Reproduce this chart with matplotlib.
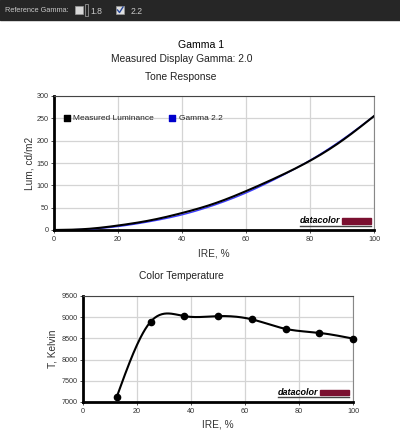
import numpy as np
import matplotlib
matplotlib.use("Agg")
from matplotlib import pyplot as plt
from matplotlib.patches import Rectangle

plt.rcParams['font.family'] = ['Liberation Sans', 'DejaVu Sans']

# tone response
ire = [0, 10, 20, 30, 40, 50, 60, 70, 80, 90, 100]
measured_lum = [0, 2.2, 10, 21.5, 38, 59, 87, 119, 155, 200, 255]
gamma22_lum = [0, 1.6, 7.8, 18.9, 34.0, 55.4, 83.0, 117.0, 156.0, 202.0, 255.0]

# color temperature
ct_ire = [12.5, 25, 37.5, 50, 62.5, 75, 87.5, 100]
ct_kelvin = [7120, 8890, 9025, 9025, 8950, 8725, 8630, 8495]


def spline(xs, ys, n=200):
    # natural cubic spline, only used to draw a smooth line through the points
    xs = np.asarray(xs, float)
    ys = np.asarray(ys, float)
    k = len(xs)
    h = np.diff(xs)
    A = np.zeros((k, k))
    b = np.zeros(k)
    A[0, 0] = A[-1, -1] = 1
    for i in range(1, k - 1):
        A[i, i - 1] = h[i - 1]
        A[i, i] = 2 * (h[i - 1] + h[i])
        A[i, i + 1] = h[i]
        b[i] = 3 * ((ys[i + 1] - ys[i]) / h[i] - (ys[i] - ys[i - 1]) / h[i - 1])
    c = np.linalg.solve(A, b)
    xx = np.linspace(xs[0], xs[-1], n)
    idx = np.clip(np.searchsorted(xs, xx) - 1, 0, k - 2)
    dx = xx - xs[idx]
    bb = (ys[idx + 1] - ys[idx]) / h[idx] - h[idx] * (2 * c[idx] + c[idx + 1]) / 3
    dd = (c[idx + 1] - c[idx]) / (3 * h[idx])
    yy = ys[idx] + bb * dx + c[idx] * dx ** 2 + dd * dx ** 3
    return xx, yy


def style(ax):
    ax.grid(True, color='#d4d4d4', lw=0.9)
    ax.set_axisbelow(True)
    for s in ['left', 'bottom']:
        ax.spines[s].set_linewidth(2.0)
        ax.spines[s].set_color('black')
    ax.spines['top'].set_color('#444444')
    ax.spines['top'].set_linewidth(0.8)
    ax.spines['right'].set_color('#888888')
    ax.spines['right'].set_linewidth(0.8)
    ax.tick_params(labelsize=5.2, colors='#333333', length=2.5, width=0.6, pad=1.5)


def logo(ax, x0, xb, x1, y):
    ax.text(x0, y, 'datacolor', transform=ax.transAxes, fontsize=6.5,
            fontweight='bold', style='italic', va='center', ha='left', color='black')
    ax.add_patch(Rectangle((xb, y - 0.022), x1 - xb, 0.044, transform=ax.transAxes,
                           color='#7a1030', zorder=5))
    ax.plot([x0, x1], [y - 0.04, y - 0.04], transform=ax.transAxes,
            color='#444444', lw=1.0, zorder=5)


fig = plt.figure(figsize=(4.0, 4.38), dpi=100)
W, H = 400.0, 438.0

# dark header bar
fig.patches.append(Rectangle((0, 1 - 20 / H), 1, 20 / H, transform=fig.transFigure,
                             color='#262626', zorder=0))
fig.text(5 / W, 1 - 10.5 / H, 'Reference Gamma:', fontsize=5.3, color='#c8c8c8', va='center')
fig.patches.append(Rectangle((75 / W, 1 - 14 / H), 8 / W, 8 / H, transform=fig.transFigure,
                             facecolor='#d8d8d8', edgecolor='#999999', lw=0.5))
fig.patches.append(Rectangle((85 / W, 1 - 16 / H), 3 / W, 12 / H, transform=fig.transFigure,
                             facecolor='#262626', edgecolor='#aaaaaa', lw=0.5))
fig.text(90 / W, 1 - 11.5 / H, '1.8', fontsize=6.2, color='#c8c8c8', va='center')
fig.patches.append(Rectangle((116 / W, 1 - 14 / H), 8 / W, 8 / H, transform=fig.transFigure,
                             facecolor='#e0e0e0', edgecolor='#999999', lw=0.5))
fig.lines.append(plt.Line2D([117.5 / W, 119.5 / W, 123 / W],
                            [1 - 10 / H, 1 - 12.5 / H, 1 - 7 / H],
                            transform=fig.transFigure, color='#2a4a9a', lw=1.0))
fig.text(131 / W, 1 - 11.5 / H, '2.2', fontsize=6.2, color='#c8c8c8', va='center')

fig.text(201 / W, 1 - 45 / H, 'Gamma 1', fontsize=7.6, color='black', ha='center', va='center')
fig.text(182 / W, 1 - 59 / H, 'Measured Display Gamma: 2.0', fontsize=7.4, color='#222222',
         ha='center', va='center')
fig.text(181 / W, 1 - 77 / H, 'Tone Response', fontsize=7.4, color='#222222',
         ha='center', va='center')
fig.text(181 / W, 1 - 276 / H, 'Color Temperature', fontsize=7.4, color='#222222',
         ha='center', va='center')

# tone response
ax1 = fig.add_axes([54 / W, 1 - 230 / H, 320 / W, 134 / H])
style(ax1)
gx, gy = spline(ire, gamma22_lum)
mx, my = spline(ire, measured_lum)
ax1.plot(gx, gy, color='#3a3aff', lw=1.0, zorder=3)
ax1.plot(mx, my, color='black', lw=1.5, zorder=4)
ax1.set_xlim(0, 100)
ax1.set_ylim(0, 300)
ax1.set_xticks([0, 20, 40, 60, 80, 100])
ax1.set_yticks([0, 50, 100, 150, 200, 250, 300])
ax1.set_xlabel('IRE, %', fontsize=7.3, color='#333333', labelpad=4)
ax1.set_ylabel('Lum, cd/m2', fontsize=7.3, color='#333333', labelpad=1)

# legend drawn as chart text on the 250 gridline
ax1.scatter([4], [250], marker='s', s=14, color='black', zorder=5, clip_on=False)
ax1.text(6, 250, 'Measured Luminance', fontsize=6, color='#222222', va='center')
ax1.scatter([37], [250], marker='s', s=14, color='#0000cc', zorder=5, clip_on=False)
ax1.text(39, 250, 'Gamma 2.2', fontsize=6, color='#222222', va='center')
logo(ax1, 0.768, 0.90, 0.99, 0.068)

# color temperature
ax2 = fig.add_axes([83 / W, 1 - 402 / H, 270 / W, 106 / H])
style(ax2)
cx, cy = spline(ct_ire, ct_kelvin)
ax2.plot(cx, cy, color='black', lw=1.5, zorder=3)
ax2.plot(ct_ire, ct_kelvin, 'o', color='black', ms=4.5, zorder=4, clip_on=False)
ax2.set_xlim(0, 100)
ax2.set_ylim(7000, 9500)
ax2.set_xticks([0, 20, 40, 60, 80, 100])
ax2.set_yticks([7000, 7500, 8000, 8500, 9000, 9500])
ax2.set_xlabel('IRE, %', fontsize=7.3, color='#333333', labelpad=3.5)
ax2.set_ylabel('T, Kelvin', fontsize=7.3, color='#333333', labelpad=2.5)
logo(ax2, 0.722, 0.878, 0.985, 0.09)

fig.savefig('out.png', dpi=100)
